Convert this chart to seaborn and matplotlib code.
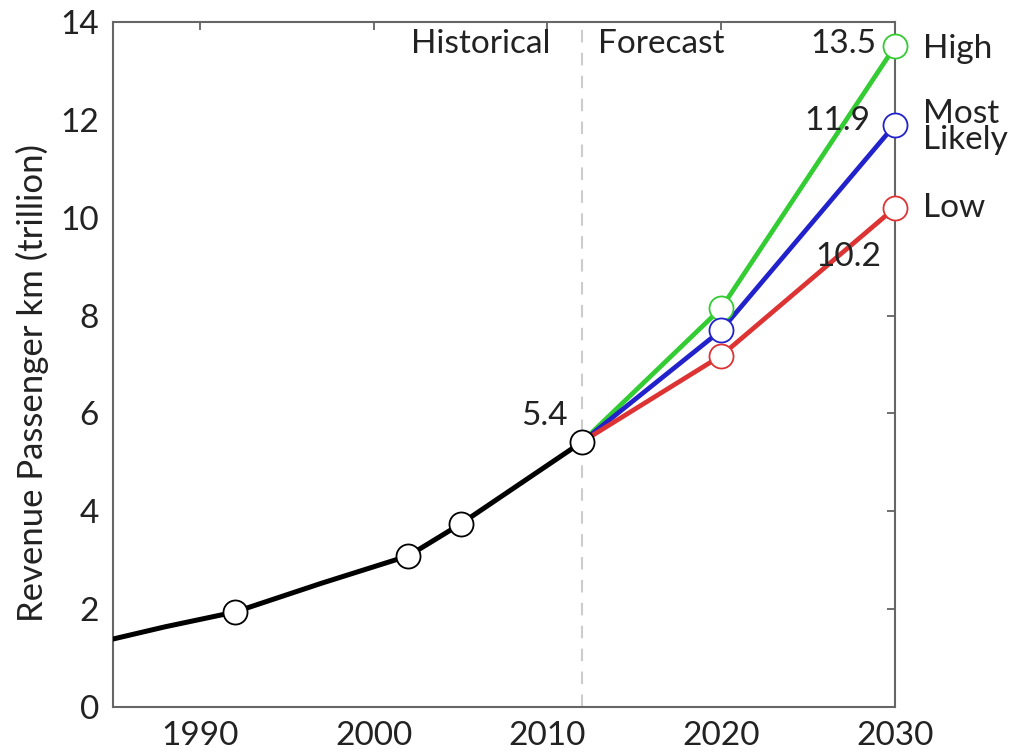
import matplotlib
matplotlib.use("Agg")
import matplotlib.pyplot as plt
import seaborn as sns
import pandas as pd

# Historical series
hist_years = [1985, 1988, 1992, 1997, 2002, 2005, 2012]
hist_values = [1.39, 1.64, 1.94, 2.53, 3.09, 3.74, 5.42]
hist_marker_years = [1992, 2002, 2005, 2012]
hist_marker_values = [1.94, 3.09, 3.74, 5.42]

# Forecast scenarios
fc_years = [2012, 2020, 2030]
high_values = [5.42, 8.15, 13.5]
likely_values = [5.42, 7.70, 11.9]
low_values = [5.42, 7.18, 10.2]

scenario_names = ["High", "Most\nLikely", "Low"]
scenario_colors = ["#33cc33", "#2222cc", "#dd3333"]

x_ticks = [1990, 2000, 2010, 2020, 2030]
y_ticks = [0, 2, 4, 6, 8, 10, 12, 14]

sns.set_style("white")
plt.rcParams['font.family'] = ['Lato', 'DejaVu Sans']

fig = plt.figure(figsize=(10.27, 7.53), dpi=100)
ax = fig.add_axes([0.110, 0.061, 0.7615, 0.910])

ax.axvline(2012, color="#cccccc", lw=1.5, ls=(0, (6, 5)), zorder=1)

hist_df = pd.DataFrame({"year": hist_years, "value": hist_values})
sns.lineplot(data=hist_df, x="year", y="value", color="black", lw=3.6, ax=ax, zorder=3)

for vals, col in zip([high_values, likely_values, low_values], scenario_colors):
    df = pd.DataFrame({"year": fc_years, "value": vals})
    sns.lineplot(data=df, x="year", y="value", color=col, lw=3.4, ax=ax, zorder=3)
    mdf = pd.DataFrame({"year": fc_years[1:], "value": vals[1:]})
    sns.scatterplot(data=mdf, x="year", y="value", s=300, facecolor="white",
                    edgecolor=col, linewidth=1.3, ax=ax, zorder=5, clip_on=False)

mk = pd.DataFrame({"year": hist_marker_years, "value": hist_marker_values})
sns.scatterplot(data=mk, x="year", y="value", s=300, facecolor="white",
                edgecolor="black", linewidth=1.3, ax=ax, zorder=6)

ax.set_xlim(1985, 2030)
ax.set_ylim(0, 14)
ax.set_xticks(x_ticks)
ax.set_yticks(y_ticks)
ax.set_xlabel("")
ax.set_ylabel("Revenue Passenger km (trillion)", fontsize=25, color="#222222")
ax.yaxis.set_label_coords(-0.082, 0.473)
ax.tick_params(axis="both", which="both", direction="in", length=6, width=1.2,
               color="#555555", labelsize=24, labelcolor="#222222",
               top=True, right=True, labeltop=False, labelright=False, pad=10)
for s in ax.spines.values():
    s.set_visible(True)
    s.set_color("#666666")
    s.set_linewidth(1.5)

fs = 24
tc = "#222222"
ax.text(2010.2, 13.55, "Historical", ha="right", va="center", fontsize=fs, color=tc)
ax.text(2012.9, 13.55, "Forecast", ha="left", va="center", fontsize=fs, color=tc)
ax.text(2009.8, 5.95, "5.4", ha="center", va="center", fontsize=fs, color=tc)
ax.text(2028.9, 13.55, "13.5", ha="right", va="center", fontsize=fs, color=tc)
ax.text(2028.6, 11.97, "11.9", ha="right", va="center", fontsize=fs, color=tc)
ax.text(2029.2, 9.2, "10.2", ha="right", va="center", fontsize=fs, color=tc)

label_y = [13.45, 11.85, 10.2]
for name, yv in zip(scenario_names, label_y):
    ax.text(2031.6, yv, name, ha="left", va="center", fontsize=fs, color=tc,
            linespacing=0.8, clip_on=False)

fig.savefig("out.png", dpi=100)
